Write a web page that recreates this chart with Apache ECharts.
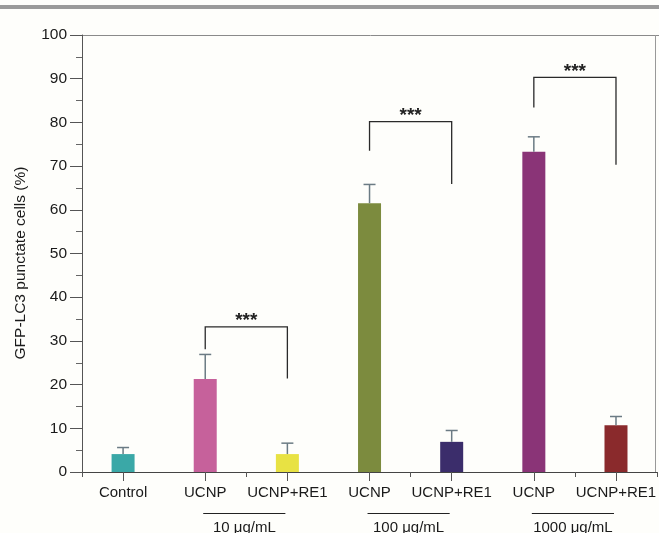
<!DOCTYPE html>
<html>
<head>
<meta charset="utf-8">
<script src="https://cdn.jsdelivr.net/npm/echarts@6/dist/echarts.min.js"></script>
<style>
html,body{margin:0;padding:0;background:#fefefb;}
#chart{width:659px;height:533px;}
</style>
</head>
<body>
<div id="chart"></div>
<script>
// ---- data ----
const categories = ['Control', 'UCNP-10', 'UCNP+RE1-10', 'UCNP-100', 'UCNP+RE1-100', 'UCNP-1000', 'UCNP+RE1-1000'];
const tickLabels = ['Control', 'UCNP', 'UCNP+RE1', 'UCNP', 'UCNP+RE1', 'UCNP', 'UCNP+RE1'];
const means = [4.1, 21.3, 4.1, 61.5, 6.9, 73.3, 10.7];
const errors = [1.5, 5.6, 2.5, 4.3, 2.6, 3.4, 2.0];
const barColors = ['#3aa8a7', '#c6619b', '#e8e243', '#7c8b3e', '#3b2d6b', '#8a3477', '#8a2a2c'];
const yTicks = [0, 10, 20, 30, 40, 50, 60, 70, 80, 90, 100];
// significance brackets: [leftIndex, rightIndex, top, leftEnd, rightEnd]
const brackets = [[1, 2, 33.2, 28.1, 21.4], [3, 4, 80.2, 73.5, 65.9], [5, 6, 90.3, 83.4, 70.3]];
const bracketLabels = ['***', '***', '***'];
// concentration groups: [firstIndex, lastIndex]
const groups = [[1, 2], [3, 4], [5, 6]];
const groupLabels = ['10 μg/mL', '100 μg/mL', '1000 μg/mL'];
const yTitle = 'GFP-LC3 punctate cells (%)';

const FONT = '"Liberation Sans", Arial, sans-serif';
const chart = echarts.init(document.getElementById('chart'));

const option = {
  backgroundColor: '#fefefb',
  animation: false,
  grid: { left: 82, right: -1, top: 35, bottom: 61 },
  xAxis: [{
    type: 'category',
    data: categories,
    boundaryGap: true,
    axisLine: { show: true, lineStyle: { color: '#444', width: 1 } },
    axisTick: { show: true, alignWithLabel: true, length: 9, lineStyle: { color: '#555', width: 1 } },
    axisLabel: {
      interval: 0, margin: 13, color: '#1a1a1a', fontSize: 15, fontFamily: FONT,
      formatter: (v, i) => tickLabels[i]
    },
    splitLine: { show: false }
  }, {
    type: 'category',
    data: categories,
    position: 'bottom',
    boundaryGap: true,
    axisLine: { show: false },
    axisTick: { show: true, alignWithLabel: false, length: 5, lineStyle: { color: '#555', width: 1 } },
    axisLabel: { show: false },
    splitLine: { show: false }
  }],
  yAxis: {
    type: 'value',
    min: 0, max: 100, interval: 10,
    axisLine: { show: true, lineStyle: { color: '#555', width: 1 } },
    axisTick: { show: true, length: 12, lineStyle: { color: '#555' } },
    minorTick: { show: true, splitNumber: 2, length: 6, lineStyle: { color: '#666' } },
    axisLabel: {
      margin: 15, color: '#1a1a1a', fontSize: 15.5, fontFamily: FONT,
      formatter: v => (yTicks.indexOf(v) >= 0 ? String(v) : '')
    },
    splitLine: { show: false }
  },
  graphic: [
    { type: 'rect', shape: { x: 0, y: 5, width: 659, height: 4 }, style: { fill: '#9a9a9a' }, silent: true },
    { type: 'line', shape: { x1: 82, y1: 35.5, x2: 659, y2: 35.5 }, style: { stroke: '#8a8a8a', lineWidth: 1 }, silent: true },
    { type: 'line', shape: { x1: 655.5, y1: 35, x2: 655.5, y2: 472 }, style: { stroke: '#999', lineWidth: 1 }, silent: true },
    {
      type: 'text', x: 21, y: 263, rotation: Math.PI / 2,
      style: { text: yTitle, fill: '#1a1a1a', font: '15.5px ' + FONT, textAlign: 'center', textVerticalAlign: 'middle' },
      silent: true
    }
  ],
  series: [
    {
      type: 'bar',
      xAxisIndex: 0,
      barWidth: 23,
      data: means.map((v, i) => ({ value: v, itemStyle: { color: barColors[i] } })),
      z: 2
    },
    {
      type: 'custom',
      xAxisIndex: 0,
      data: means.map((v, i) => [i, v, errors[i]]),
      encode: { x: 0, y: 1 },
      z: 3,
      renderItem: function (params, api) {
        const i = api.value(0), v = api.value(1), e = api.value(2);
        const b = api.coord([i, v]);
        const t = api.coord([i, v + e]);
        const st = { stroke: '#6b7b84', lineWidth: 1.5 };
        return {
          type: 'group',
          children: [
            { type: 'line', shape: { x1: b[0], y1: b[1], x2: t[0], y2: t[1] }, style: st },
            { type: 'line', shape: { x1: t[0] - 6, y1: t[1], x2: t[0] + 6, y2: t[1] }, style: st }
          ]
        };
      }
    },
    {
      type: 'custom',
      xAxisIndex: 0,
      data: brackets,
      encode: { x: [0, 1], y: [2, 3, 4] },
      z: 4,
      renderItem: function (params, api) {
        const l = api.value(0), r = api.value(1), top = api.value(2), le = api.value(3), re = api.value(4);
        const pTL = api.coord([l, top]), pTR = api.coord([r, top]);
        const pL = api.coord([l, le]), pR = api.coord([r, re]);
        const st = { stroke: '#2a2a2a', lineWidth: 1.3, fill: null };
        return {
          type: 'group',
          children: [
            { type: 'polyline', shape: { points: [pL, pTL, pTR, pR] }, style: st },
            {
              type: 'text', x: (pTL[0] + pTR[0]) / 2, y: pTL[1] - 6,
              style: { text: bracketLabels[params.dataIndex], fill: '#222', font: 'bold 19px ' + FONT, textAlign: 'center', textVerticalAlign: 'middle' }
            }
          ]
        };
      }
    },
    {
      type: 'custom',
      xAxisIndex: 0,
      data: groups.map(g => [g[0], g[1], 0]),
      encode: { x: [0, 1], y: 2 },
      clip: false,
      z: 4,
      renderItem: function (params, api) {
        const a = api.coord([api.value(0), 0]);
        const b = api.coord([api.value(1), 0]);
        return {
          type: 'group',
          children: [
            { type: 'line', shape: { x1: a[0] - 2, y1: a[1] + 41.5, x2: b[0] - 2, y2: b[1] + 41.5 }, style: { stroke: '#222', lineWidth: 1 } },
            {
              type: 'text', x: (a[0] + b[0]) / 2 - 2, y: a[1] + 55.5,
              style: { text: groupLabels[params.dataIndex], fill: '#1a1a1a', font: '15px ' + FONT, textAlign: 'center', textVerticalAlign: 'middle' }
            }
          ]
        };
      }
    }
  ]
};
chart.setOption(option);
</script>
</body>
</html>
